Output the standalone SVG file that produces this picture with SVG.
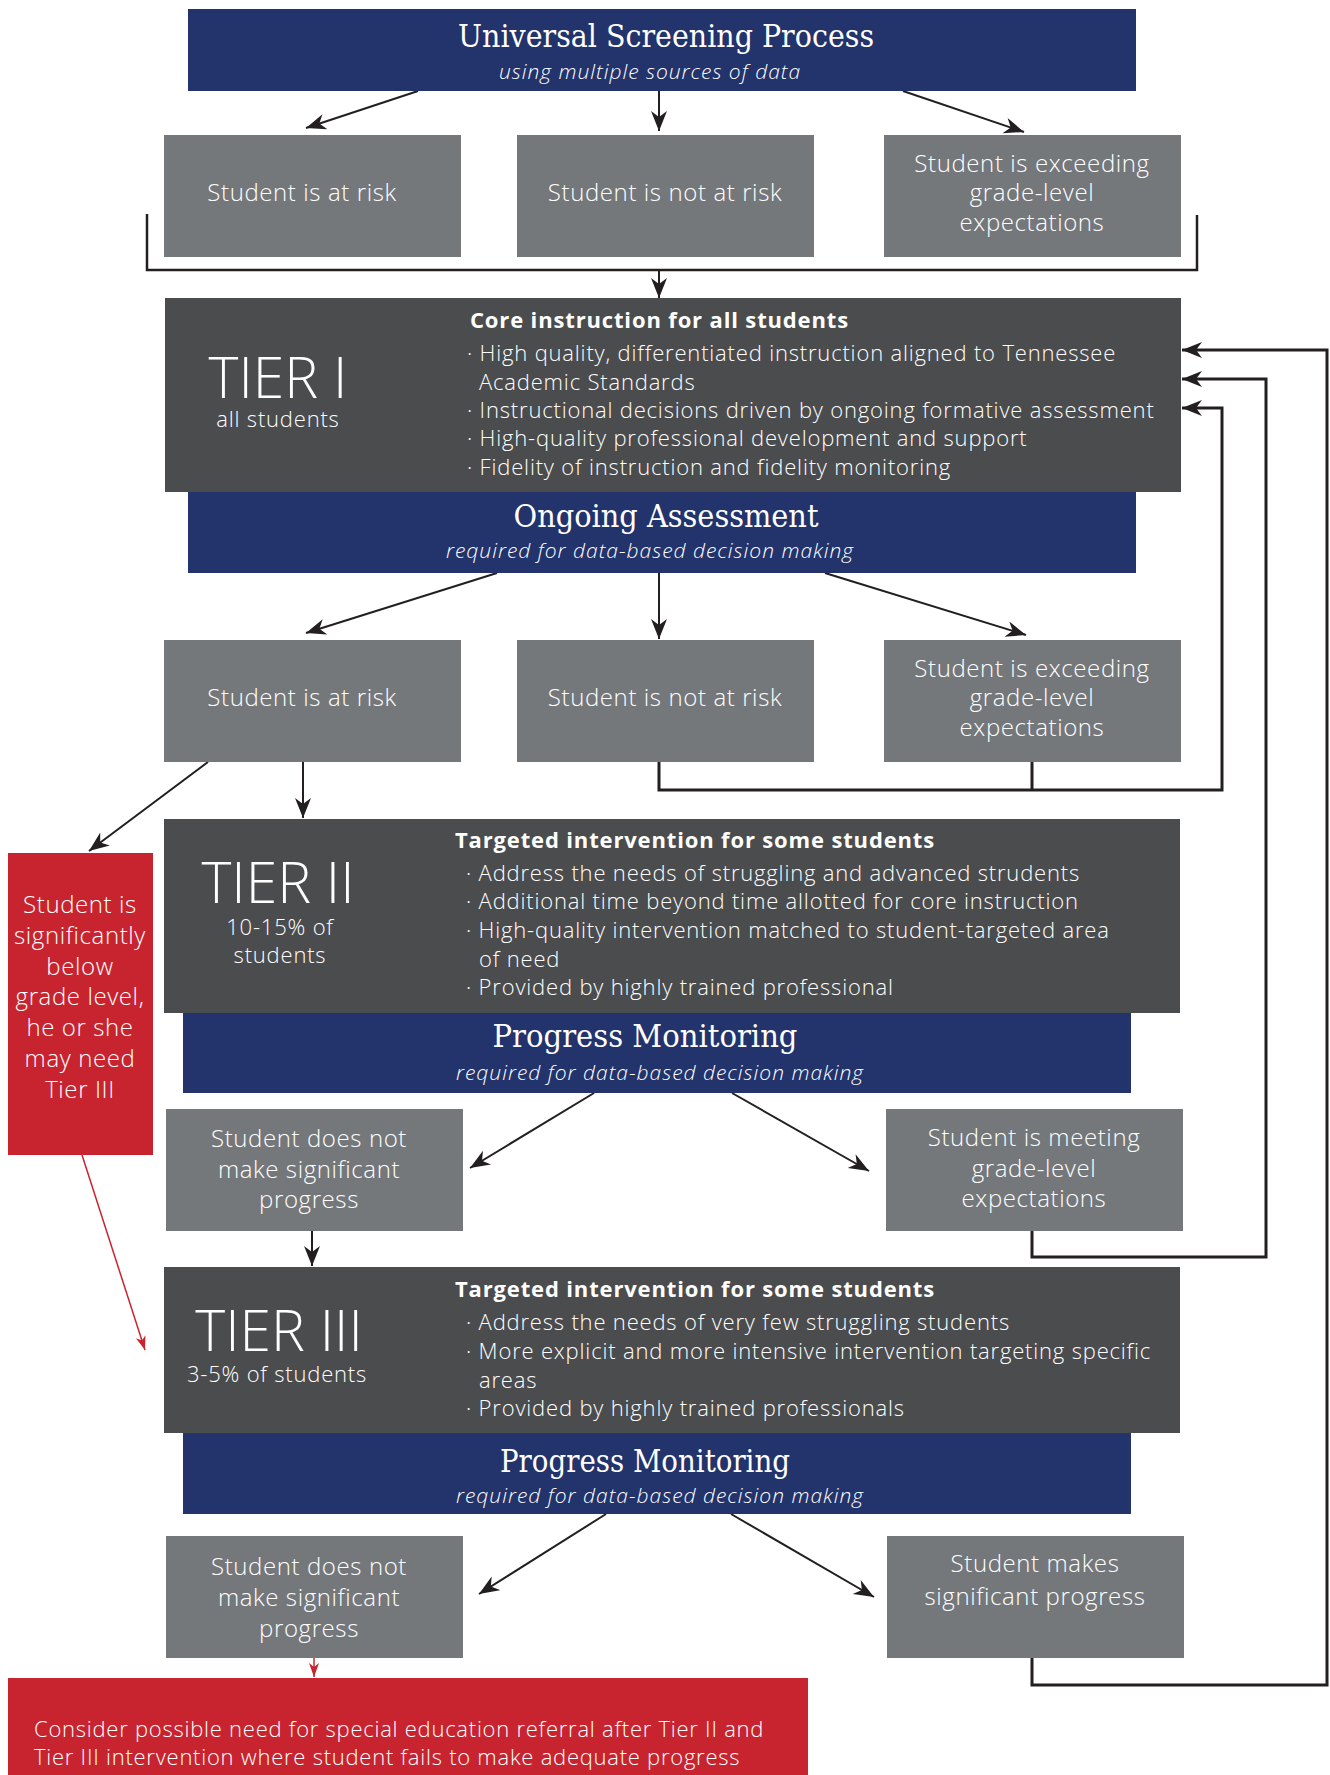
<svg xmlns="http://www.w3.org/2000/svg" width="1330" height="1775" viewBox="0 0 1330 1775">
<style>
.nav{fill:#23336b}
.gbox{fill:#75787b}
.tier{fill:#4b4c4e}
.red{fill:#c8242f}
text{font-family:'Open Sans','Liberation Sans',sans-serif;font-weight:300;fill:#ffffff}
.bx{font-size:24px;letter-spacing:0.6px;text-anchor:middle}
.body{font-size:22px;letter-spacing:0.82px}
.hdr{font-size:22px;letter-spacing:0.85px;font-weight:700}
.title{font-family:'DejaVu Serif Condensed','DejaVu Serif',serif;font-weight:400;font-size:31px;text-anchor:middle}
.sub{font-size:21px;letter-spacing:1px;font-style:italic;text-anchor:middle}
.big{font-size:57px;text-anchor:middle}
.mid{font-size:22px;letter-spacing:0.8px;text-anchor:middle}
.thin{stroke:#231f20;stroke-width:2;fill:none}
.thick{stroke:#231f20;stroke-width:3;fill:none}
.rline{stroke:#c8242f;stroke-width:1.5;fill:none}
</style>
<defs>
<marker id="ah" markerUnits="userSpaceOnUse" markerWidth="22" markerHeight="18" refX="20" refY="8" orient="auto">
<path d="M0,0 L20,8 L0,16 L6,8 z" fill="#231f20"/>
</marker>
<marker id="ahr" markerUnits="userSpaceOnUse" markerWidth="16" markerHeight="12" refX="14" refY="5" orient="auto">
<path d="M0,0 L14,5 L0,10 L4,5 z" fill="#c8242f"/>
</marker>
</defs>

<g id="connectors">
<path class="thin" d="M418,91 L306,128" marker-end="url(#ah)"/>
<path class="thin" d="M659,91 L659,131" marker-end="url(#ah)"/>
<path class="thin" d="M903,91 L1024,132" marker-end="url(#ah)"/>
<path class="thin" d="M147,214 V270 H1197 V215" style="stroke-width:2.5"/>
<path class="thin" d="M659,270 L659,298" marker-end="url(#ah)"/>
<path class="thin" d="M497,573 L306,633" marker-end="url(#ah)"/>
<path class="thin" d="M659,573 L659,639" marker-end="url(#ah)"/>
<path class="thin" d="M825,573 L1026,635" marker-end="url(#ah)"/>
<path class="thin" d="M208,762 L89,851" marker-end="url(#ah)"/>
<path class="thin" d="M303,762 L303,818" marker-end="url(#ah)"/>
<path class="thin" d="M594,1093 L470,1168" marker-end="url(#ah)"/>
<path class="thin" d="M732,1093 L869,1171" marker-end="url(#ah)"/>
<path class="thin" d="M312,1231 L312,1266" marker-end="url(#ah)"/>
<path class="thin" d="M606,1514 L479,1594" marker-end="url(#ah)"/>
<path class="thin" d="M731,1514 L874,1597" marker-end="url(#ah)"/>
<path class="rline" d="M82,1155 L145,1350" marker-end="url(#ahr)"/>
<path class="rline" d="M314,1658 L314,1677" marker-end="url(#ahr)"/>
<path class="thick" d="M659,762 V790 H1222 V408 H1182" marker-end="url(#ah)"/>
<path class="thick" d="M1032,762 V790"/>
<path class="thick" d="M1032,1231 V1257 H1266 V379 H1182" marker-end="url(#ah)"/>
<path class="thick" d="M1032,1658 V1685 H1327 V350 H1182" marker-end="url(#ah)"/>
</g>

<g id="universal-screening">
<rect class="nav" x="188" y="9" width="948" height="82"/>
<text class="title" x="666" y="47" textLength="416" lengthAdjust="spacingAndGlyphs">Universal Screening Process</text>
<text class="sub" x="650" y="79">using multiple sources of data</text>
</g>

<g id="r1-at-risk">
<rect class="gbox" x="164" y="135" width="297" height="122"/>
<text class="bx" x="302" y="201">Student is at risk</text>
</g>
<g id="r1-not-at-risk">
<rect class="gbox" x="517" y="135" width="297" height="122"/>
<text class="bx" x="665" y="201">Student is not at risk</text>
</g>
<g id="r1-exceeding">
<rect class="gbox" x="884" y="135" width="297" height="122"/>
<text class="bx" x="1032" y="172">Student is exceeding</text>
<text class="bx" x="1032" y="201">grade-level</text>
<text class="bx" x="1032" y="231">expectations</text>
</g>

<g id="tier1">
<rect class="tier" x="165" y="298" width="1016" height="194"/>
<text class="big" x="278" y="398">TIER I</text>
<text class="mid" x="278" y="427">all students</text>
<text class="hdr" x="470" y="328">Core instruction for all students</text>
<text class="body" x="467" y="361">· High quality, differentiated instruction aligned to Tennessee</text>
<text class="body" x="479" y="390">Academic Standards</text>
<text class="body" x="467" y="418">· Instructional decisions driven by ongoing formative assessment</text>
<text class="body" x="467" y="446">· High-quality professional development and support</text>
<text class="body" x="467" y="475">· Fidelity of instruction and fidelity monitoring</text>
</g>

<g id="ongoing-assessment">
<rect class="nav" x="188" y="492" width="948" height="81"/>
<text class="title" x="666" y="527" textLength="305" lengthAdjust="spacingAndGlyphs">Ongoing Assessment</text>
<text class="sub" x="650" y="558">required for data-based decision making</text>
</g>

<g id="r2-at-risk">
<rect class="gbox" x="164" y="640" width="297" height="122"/>
<text class="bx" x="302" y="706">Student is at risk</text>
</g>
<g id="r2-not-at-risk">
<rect class="gbox" x="517" y="640" width="297" height="122"/>
<text class="bx" x="665" y="706">Student is not at risk</text>
</g>
<g id="r2-exceeding">
<rect class="gbox" x="884" y="640" width="297" height="122"/>
<text class="bx" x="1032" y="677">Student is exceeding</text>
<text class="bx" x="1032" y="706">grade-level</text>
<text class="bx" x="1032" y="736">expectations</text>
</g>

<g id="below-grade">
<rect class="red" x="8" y="853" width="145" height="302"/>
<text class="bx" x="80" y="913">Student is</text>
<text class="bx" x="80" y="944">significantly</text>
<text class="bx" x="80" y="975">below</text>
<text class="bx" x="80" y="1005">grade level,</text>
<text class="bx" x="80" y="1036">he or she</text>
<text class="bx" x="80" y="1067">may need</text>
<text class="bx" x="80" y="1098">Tier III</text>
</g>

<g id="tier2">
<rect class="tier" x="164" y="819" width="1016" height="194"/>
<text class="big" x="278" y="903">TIER II</text>
<text class="mid" x="280" y="935">10-15% of</text>
<text class="mid" x="280" y="963">students</text>
<text class="hdr" x="455" y="848">Targeted intervention for some students</text>
<text class="body" x="466" y="881">· Address the needs of struggling and advanced strudents</text>
<text class="body" x="466" y="909">· Additional time beyond time allotted for core instruction</text>
<text class="body" x="466" y="938">· High-quality intervention matched to student-targeted area</text>
<text class="body" x="479" y="967">of need</text>
<text class="body" x="466" y="995">· Provided by highly trained professional</text>
</g>

<g id="progress-monitoring-1">
<rect class="nav" x="183" y="1013" width="948" height="80"/>
<text class="title" x="645" y="1047" textLength="305" lengthAdjust="spacingAndGlyphs">Progress Monitoring</text>
<text class="sub" x="660" y="1080">required for data-based decision making</text>
</g>

<g id="r3-no-progress">
<rect class="gbox" x="166" y="1109" width="297" height="122"/>
<text class="bx" x="309" y="1147">Student does not</text>
<text class="bx" x="309" y="1178">make significant</text>
<text class="bx" x="309" y="1208">progress</text>
</g>
<g id="r3-meeting">
<rect class="gbox" x="886" y="1109" width="297" height="122"/>
<text class="bx" x="1034" y="1146">Student is meeting</text>
<text class="bx" x="1034" y="1177">grade-level</text>
<text class="bx" x="1034" y="1207">expectations</text>
</g>

<g id="tier3">
<rect class="tier" x="164" y="1267" width="1016" height="166"/>
<text class="big" x="279" y="1351">TIER III</text>
<text class="mid" x="277" y="1382">3-5% of students</text>
<text class="hdr" x="455" y="1297">Targeted intervention for some students</text>
<text class="body" x="466" y="1330">· Address the needs of very few struggling students</text>
<text class="body" x="466" y="1359">· More explicit and more intensive intervention targeting specific</text>
<text class="body" x="479" y="1388">areas</text>
<text class="body" x="466" y="1416">· Provided by highly trained professionals</text>
</g>

<g id="progress-monitoring-2">
<rect class="nav" x="183" y="1433" width="948" height="81"/>
<text class="title" x="645" y="1472" textLength="290" lengthAdjust="spacingAndGlyphs">Progress Monitoring</text>
<text class="sub" x="660" y="1503">required for data-based decision making</text>
</g>

<g id="r4-no-progress">
<rect class="gbox" x="166" y="1536" width="297" height="122"/>
<text class="bx" x="309" y="1575">Student does not</text>
<text class="bx" x="309" y="1606">make significant</text>
<text class="bx" x="309" y="1637">progress</text>
</g>
<g id="r4-progress">
<rect class="gbox" x="887" y="1536" width="297" height="122"/>
<text class="bx" x="1035" y="1572">Student makes</text>
<text class="bx" x="1035" y="1605">significant progress</text>
</g>

<g id="special-ed">
<rect class="red" x="8" y="1678" width="800" height="97"/>
<text class="body" x="34" y="1737" style="letter-spacing:0.75px">Consider possible need for special education referral after Tier II and</text>
<text class="body" x="34" y="1765" style="letter-spacing:0.75px">Tier III intervention where student fails to make adequate progress</text>
</g>
</svg>
